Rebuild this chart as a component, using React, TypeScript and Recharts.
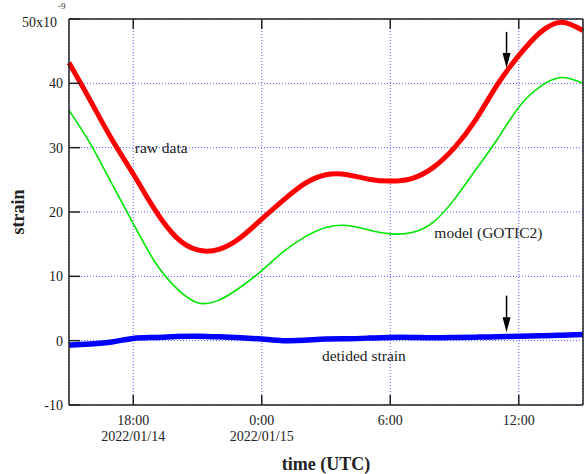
import { LineChart, Line, XAxis, YAxis, CartesianGrid, ReferenceLine, ReferenceDot, Label } from 'recharts'

// hours counted from 2022/01/14 00:00 UTC
const hours = [15, 16, 17, 18, 19, 20, 21, 22, 23, 24, 25, 26, 27, 28, 29, 30, 31, 32, 33, 34, 35, 36, 37, 38, 39]
const rawData = [43.2, 37.3, 31.3, 25.9, 20.4, 16.1, 14.1, 14.2, 16.0, 18.9, 21.8, 24.4, 25.8, 25.8, 25.1, 24.8, 25.2, 26.9, 30.0, 34.4, 39.8, 44.3, 47.9, 49.5, 48.2]
const modelData = [35.8, 30.6, 24.4, 18.2, 12.3, 8.2, 5.9, 6.3, 8.3, 10.9, 13.8, 16.1, 17.6, 17.9, 17.2, 16.6, 16.8, 18.4, 22.0, 26.6, 31.3, 36.3, 39.5, 40.9, 40.0]
const detidedData = [-0.7, -0.5, -0.2, 0.35, 0.5, 0.65, 0.7, 0.6, 0.45, 0.25, 0.0, 0.05, 0.25, 0.3, 0.4, 0.5, 0.5, 0.45, 0.5, 0.55, 0.6, 0.7, 0.75, 0.85, 0.95]

const xTicks = [18, 24, 30, 36]
const xTickTimes = ['18:00', '0:00', '6:00', '12:00']
const xTickDates = ['2022/01/14', '2022/01/15', '', '']
const yTicks = [-10, 0, 10, 20, 30, 40, 50]

const arrowHour = 35.43
const rawArrow = [48.0, 42.4]
const detidedArrow = [7.0, 1.3]

const notes = [
  { text: 'raw data', x: 18.07, y: 29.2 },
  { text: 'model (GOTIC2)', x: 32.06, y: 16.0 },
  { text: 'detided strain', x: 26.81, y: -3.1 },
]

const data = hours.map((h, i) => ({ h, raw: rawData[i], model: modelData[i], detided: detidedData[i] }))

const FONT = '"Liberation Serif", "Times New Roman", serif'
const INK = '#222'

function BottomTick({ x, y, payload }: any) {
  const i = xTicks.indexOf(payload.value)
  return (
    <g>
      <line x1={x} y1={y} x2={x} y2={y - 10} stroke={INK} strokeWidth={1.5} />
      <text x={x} y={y + 20} textAnchor="middle" fontSize={14} fontFamily={FONT} fill={INK}>{xTickTimes[i]}</text>
      {xTickDates[i] && (
        <text x={x} y={y + 36} textAnchor="middle" fontSize={14} fontFamily={FONT} fill={INK}>{xTickDates[i]}</text>
      )}
    </g>
  )
}

function TopTick({ x, y }: any) {
  return <line x1={x} y1={y} x2={x} y2={y + 10} stroke={INK} strokeWidth={1.5} />
}

function LeftTick({ x, y, payload }: any) {
  const v = payload.value
  return (
    <g>
      <line x1={x} y1={y} x2={x + 11} y2={y} stroke={INK} strokeWidth={1.5} />
      {v === 50 ? (
        <>
          <text x={x - 12} y={y + 7.5} textAnchor="end" fontSize={14} fontFamily={FONT} fill={INK}>50x10</text>
          <text x={x - 11} y={y - 10} textAnchor="start" fontSize={9} fontFamily={FONT} fill={INK}>-9</text>
        </>
      ) : (
        <text x={x - 6} y={y + 5} textAnchor="end" fontSize={14} fontFamily={FONT} fill={INK}>{v}</text>
      )}
    </g>
  )
}

function RightTick({ x, y }: any) {
  return <line x1={x} y1={y} x2={x - 11} y2={y} stroke={INK} strokeWidth={1.5} />
}

function Arrow({ x1, y1, x2, y2 }: any) {
  const head = 15
  return (
    <g>
      <line x1={x1} y1={y1} x2={x2} y2={y2 - head} stroke="#000" strokeWidth={1.5} />
      <path d={`M${x2 - 4},${y2 - head} L${x2 + 4},${y2 - head} L${x2},${y2} Z`} fill="#000" />
    </g>
  )
}

export default function App() {
  return (
    <div style={{ position: 'absolute', left: 0, top: 0, background: '#fff' }}>
      <LineChart width={584} height={474} data={data} margin={{ top: 18, right: 0, bottom: 0, left: 0 }} style={{ fontFamily: FONT }}>
        <CartesianGrid stroke="#5a5aff" strokeDasharray="1 2" strokeWidth={1} />
        <XAxis
          dataKey="h"
          type="number"
          domain={[15, 39]}
          ticks={xTicks}
          interval={0}
          height={69}
          tickSize={0}
          tickMargin={0}
          tickLine={false}
          axisLine={{ stroke: INK, strokeWidth: 1.5 }}
          tick={BottomTick}
        >
          <Label
            content={({ viewBox }: any) => (
              <text x={viewBox.x + viewBox.width / 2} y={viewBox.y + viewBox.height - 4} textAnchor="middle" fontSize={18} fontWeight="bold" fontFamily={FONT} fill={INK}>
                time (UTC)
              </text>
            )}
          />
        </XAxis>
        <XAxis
          xAxisId="t"
          orientation="top"
          dataKey="h"
          type="number"
          domain={[15, 39]}
          ticks={xTicks}
          interval={0}
          height={1}
          tickSize={0}
          tickMargin={0}
          tickLine={false}
          axisLine={{ stroke: INK, strokeWidth: 1.5 }}
          tick={TopTick}
        />
        <YAxis
          type="number"
          domain={[-10, 50]}
          ticks={yTicks}
          interval={0}
          width={69}
          tickSize={0}
          tickMargin={0}
          tickLine={false}
          axisLine={{ stroke: INK, strokeWidth: 1.5 }}
          tick={LeftTick}
        >
          <Label
            content={({ viewBox }: any) => {
              const cx = 24
              const cy = viewBox.y + viewBox.height / 2
              return (
                <text x={cx} y={cy} transform={`rotate(-90, ${cx}, ${cy})`} textAnchor="middle" fontSize={18} fontWeight="bold" fontFamily={FONT} fill={INK}>
                  strain
                </text>
              )
            }}
          />
        </YAxis>
        <YAxis
          yAxisId="r"
          orientation="right"
          type="number"
          domain={[-10, 50]}
          ticks={yTicks}
          interval={0}
          width={1}
          tickSize={0}
          tickMargin={0}
          tickLine={false}
          axisLine={{ stroke: INK, strokeWidth: 1.5 }}
          tick={RightTick}
        />
        <Line type="natural" dataKey="model" stroke="#00e600" strokeWidth={1.6} dot={false} isAnimationActive={false} />
        <Line type="natural" dataKey="raw" stroke="#ff0000" strokeWidth={5} dot={false} isAnimationActive={false} />
        <Line type="natural" dataKey="detided" stroke="#0000ff" strokeWidth={5.5} dot={false} isAnimationActive={false} />
        <ReferenceLine
          segment={[{ x: arrowHour, y: rawArrow[0] }, { x: arrowHour, y: rawArrow[1] }]}
          shape={(p: any) => <Arrow {...p} />}
        />
        <ReferenceLine
          segment={[{ x: arrowHour, y: detidedArrow[0] }, { x: arrowHour, y: detidedArrow[1] }]}
          shape={(p: any) => <Arrow {...p} />}
        />
        {notes.map((n) => (
          <ReferenceDot
            key={n.text}
            x={n.x}
            y={n.y}
            r={0}
            shape={(p: any) => (
              <text x={p.cx} y={p.cy} fontSize={15.5} fontFamily={FONT} fill={INK}>{n.text}</text>
            )}
          />
        ))}
      </LineChart>
    </div>
  )
}
